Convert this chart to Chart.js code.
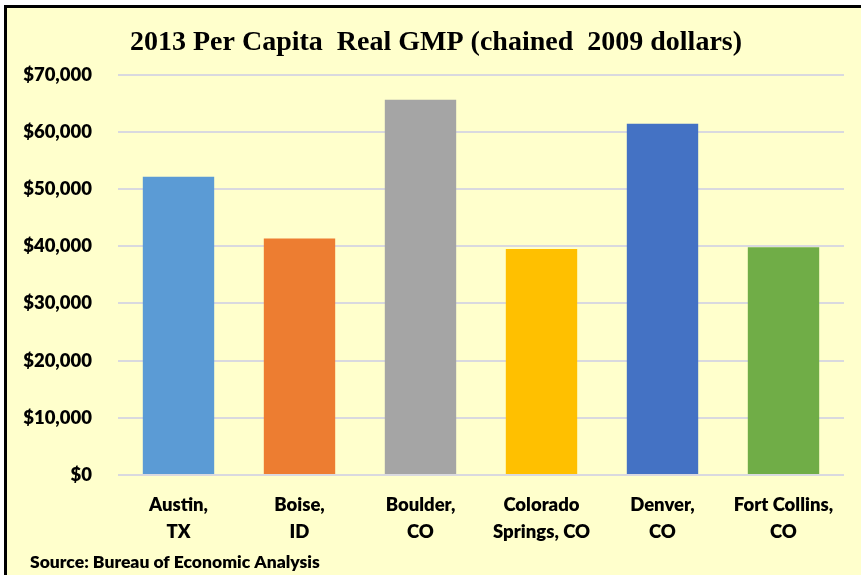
<!DOCTYPE html>
<html>
<head>
<meta charset="utf-8">
<script src="https://cdn.jsdelivr.net/npm/chart.js@4"></script>
<style>
  body { margin: 0; background: #fff; overflow: hidden; }
  #frame {
    position: absolute; left: 4px; top: 5px; width: 900px; height: 600px;
    background: #ffffcc; border: 3px solid #000;
  }
  #wrap { position: absolute; left: 0; top: 0; width: 861px; height: 575px; }
</style>
</head>
<body>
<div id="frame"></div>
<div id="wrap"><canvas id="chartCanvas" width="861" height="575"></canvas></div>
<script>
// 2013 per capita real GMP, chained 2009 dollars

const cities = [
  ['Austin,', 'TX'],
  ['Boise,', 'ID'],
  ['Boulder,', 'CO'],
  ['Colorado', 'Springs, CO'],
  ['Denver,', 'CO'],
  ['Fort Collins,', 'CO'],
];
const gmp = [52150, 41350, 65600, 39500, 61400, 39800];
const barColors = ['#5b9bd5', '#ed7d31', '#a5a5a5', '#ffc000', '#4472c4', '#70ad47'];
const yTicks = [0, 10000, 20000, 30000, 40000, 50000, 60000, 70000];
const sourceNote = 'Source: Bureau of Economic Analysis';

const tickFont = {family: 'Lato', weight: 800, size: 18.5};

// source line sits below the axis labels, left of the plot
const sourcePlugin = {
  id: 'sourceNote',
  afterLayout(chart) {
    // let the y labels run into the left padding instead of being clipped
    chart.scales.y.left = 0;
  },
  afterDraw(chart) {
    const c = chart.ctx;
    c.save();
    c.font = '800 17.5px Lato';
    c.fillStyle = '#000';
    c.textBaseline = 'middle';
    c.fillText(sourceNote, 30, 562);
    c.restore();
  },
};

const ctx = document.getElementById('chartCanvas').getContext('2d');
new Chart(ctx, {
  type: 'bar',
  data: {
    labels: cities,
    datasets: [{
      data: gmp,
      backgroundColor: barColors,
      borderWidth: 0,
      barPercentage: 0.59,
      categoryPercentage: 1,
    }],
  },
  options: {
    responsive: false,
    animation: false,
    layout: {padding: {left: 28, right: 17, top: 0, bottom: 13}},
    plugins: {
      legend: {display: false},
      tooltip: {enabled: false},
      title: {
        display: true,
        text: '2013 Per Capita  Real GMP (chained  2009 dollars)',
        color: '#000',
        font: {family: 'Liberation Serif', weight: 'bold', size: 28},
        padding: {top: 26, bottom: 15},
      },
    },
    scales: {
      x: {
        grid: {display: false, drawTicks: false},
        border: {display: false},
        ticks: {
          color: '#000',
          font: {...tickFont, lineHeight: '27px'},
          padding: 16.5,
          maxRotation: 0,
        },
      },
      y: {
        min: 0,
        max: 70000,
        afterFit: scale => { scale.width = 90; },
        afterBuildTicks: scale => { scale.ticks = yTicks.map(v => ({value: v})); },
        grid: {color: '#d9d9df', lineWidth: 2, drawTicks: false},
        border: {display: false},
        ticks: {
          color: '#000',
          font: tickFont,
          padding: 26,
          callback: v => '$' + v.toLocaleString('en-US'),
        },
      },
    },
  },
  plugins: [sourcePlugin],
});
</script>
</body>
</html>
